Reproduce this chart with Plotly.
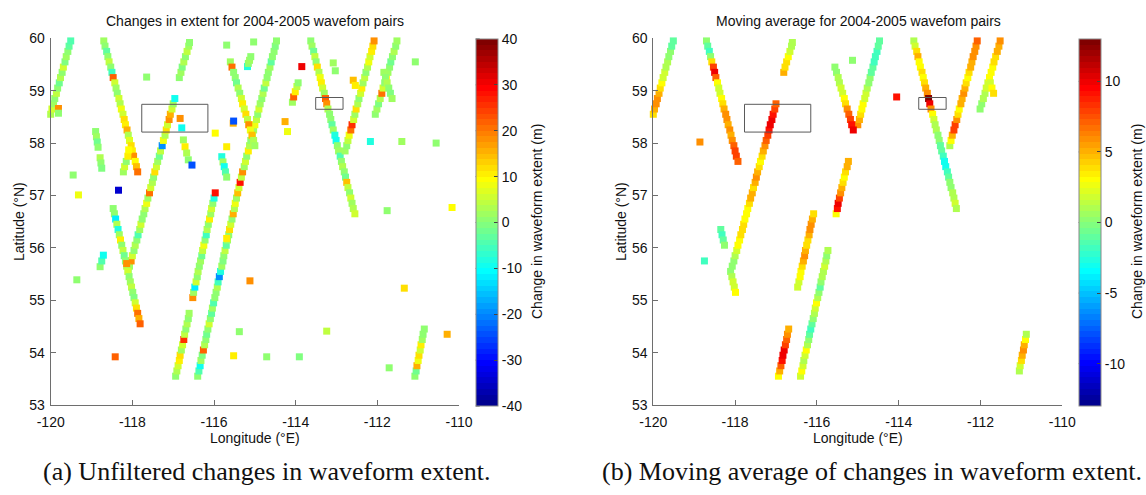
import numpy as np
import plotly.graph_objects as go

W, H = 1146, 495

# ---------------- along-track footprints (lon, lat) with changes in extent ----------------
# ext = unfiltered change (m), avg = moving average (m); None = no value in that product

a_lat = [58.55, 58.65, 58.75, 58.85, 58.95, 59.05, 59.15, 59.25, 59.35, 59.45, 59.55, 59.65, 59.75, 59.85, 59.95]
a_lon = [-120.00, -119.97, -119.93, -119.90, -119.86, -119.83, -119.79, -119.76, -119.72, -119.69, -119.65, -119.62, -119.58, -119.55, -119.51]
a_ext = [3, 6, 2, 0, 4, 1, -2, 3, 0, 5, -1, 2, 0, -3, -4]
a_avg = [4, 5, 6, 6, 5, 4, 3, 2, 2, 1, 1, 0, 0, -1, -1]

b_lat = [59.95, 59.85, 59.75, 59.65, 59.55, 59.45, 59.35, 59.25, 59.15, 59.05, 58.95, 58.85, 58.75,
         58.65, 58.55, 58.45, 58.35, 58.25, 58.15, 58.05, 57.95, 57.85, 57.75, 57.65, 57.55, 57.45]
b_lon = [-118.70, -118.67, -118.63, -118.60, -118.57, -118.53, -118.50, -118.47, -118.43, -118.40, -118.37, -118.33, -118.30,
         -118.27, -118.23, -118.20, -118.17, -118.13, -118.10, -118.07, -118.03, -118.00, -117.97, -117.93, -117.90, -117.87]
b_ext = [2, 0, -3, 1, 4, 0, -6, 22, 5, 2, 0, 6, 3, 8, 5, 12, 10, 15, 3, 7, 12, 10, 18, 9, 14, 20]
b_avg = [0, -1, -2, 0, 4, 8, 10, 7, 3, 2, 2, 3, 4, 5, 6, 6, 5, 6, 5, 6, 7, 8, 8, 7, None, None]

c_lat = [55.55, 55.65, 55.75, 55.85, 55.95, 56.05, 56.15, 56.25, 56.35, 56.45, 56.55, 56.65, 56.75, 56.85, 56.95, 57.05, 57.15,
         57.25, 57.35, 57.45, 57.55, 57.65, 57.75, 57.85, 57.95, 58.05, 58.15, 58.25, 58.35, 58.45, 58.55, 58.65, 58.75, 58.85]
c_lon = [-118.10, -118.07, -118.03, -118.00, -117.96, -117.93, -117.89, -117.86, -117.82, -117.79, -117.76, -117.72, -117.69,
         -117.65, -117.62, -117.58, -117.55, -117.51, -117.48, -117.45, -117.41, -117.38, -117.34, -117.31, -117.27, -117.24,
         -117.20, -117.17, -117.14, -117.10, -117.07, -117.03, -117.00, -116.96]
c_ext = [0, 2, 18, 5, 1, 3, 0, -4, 2, 6, 1, 0, 3, 8, 2, 20, 5, 3, 1, 12, 6, 2, -2, 4, -20, 8, 3, 12, 5, 18, 15, 6, 2, -10]
c_avg = [None, 0, 0, 1, 2, 3, 3, 4, 4, 4, 3, 3, 3, 4, 5, 5, 4, 5, 6, 5, 4, 3, 4, 5, 6, 7, 8, 9, 10, 10, 9, 8, 7, None]

ct_lat = [59.25, 59.35, 59.45, 59.55, 59.65, 59.75, 59.85, 59.92]
ct_lon = [-116.85, -116.81, -116.78, -116.74, -116.70, -116.66, -116.62, -116.60]
ct_ext = [0, 2, -1, 3, 1, 4, 2, 0]
ct_avg = [None, 5, 4, 4, 3, 2, 1, 1]

d_lat = [56.85, 56.75, 56.65, 56.55, 56.45, 56.35, 56.25, 56.15, 56.05, 55.95, 55.85, 55.75,
         55.65, 55.55, 55.45, 55.35, 55.25, 55.15, 55.05, 54.95, 54.85, 54.75, 54.65, 54.55]
d_lon = [-118.50, -118.47, -118.44, -118.41, -118.38, -118.35, -118.32, -118.29, -118.26, -118.23, -118.20, -118.17,
         -118.14, -118.11, -118.08, -118.05, -118.02, -117.99, -117.96, -117.93, -117.90, -117.87, -117.84, -117.81]
d_ext = [None, 0, 1, -12, 3, -8, 2, 10, 0, 4, -2, 1, 3, 5, 0, 2, 4, 1, -1, 6, 12, 20, 15, 22]
d_avg = [None, None, None, None, None, -1, -2, -1, 0, None, None, None,
         None, 0, 1, 2, 2, 3, None, None, None, None, None, None]

s1_lat = [58.22, 58.12, 58.02, 57.92, 57.72, 57.62, 57.52]
s1_lon = [-118.90, -118.88, -118.86, -118.84, -118.79, -118.77, -118.75]
s1_ext = [0, 2, -2, 1, 3, 0, -1]
s1_avg = [None, None, 6, None, None, None, None]

s2_lat = [57.45, 57.55, 57.65, 57.75, 57.87]
s2_lon = [-118.22, -118.19, -118.15, -118.11, -118.09]
s2_ext = [2, 5, 1, 10, 9]
s2_avg = [None, None, None, None, None]

s3_lat = [55.64, 55.75, 55.86]
s3_lon = [-118.79, -118.75, -118.71]
s3_ext = [0, -4, -10]
s3_avg = [None, -2, None]

e1a_lat = [53.55, 53.65, 53.75, 53.85, 53.95, 54.05, 54.15, 54.25, 54.35, 54.45, 54.55, 54.65, 54.75]
e1a_lon = [-116.94, -116.91, -116.88, -116.85, -116.83, -116.80, -116.77, -116.74, -116.72, -116.69, -116.66, -116.63, -116.61]
e1a_ext = [1, 3, 5, 10, 12, 2, 6, 25, 4, 1, 3, 0, 2]
e1a_avg = [3, 5, 7, 9, 10, 10, 8, 7, 6, 5, None, None, None]

e1b_lat = [55.05, 55.15, 55.25, 55.35, 55.45, 55.55, 55.65, 55.75, 55.85, 55.95, 56.05,
           56.15, 56.25, 56.35, 56.45, 56.55, 56.65, 56.75, 56.85, 56.95, 57.05]
e1b_lon = [-116.52, -116.50, -116.47, -116.44, -116.41, -116.39, -116.36, -116.33, -116.30, -116.28, -116.25,
           -116.22, -116.19, -116.17, -116.14, -116.11, -116.08, -116.06, -116.03, -116.00, -115.97]
e1b_ext = [18, 2, -12, 5, 1, 3, 0, 2, -2, 4, 8, 1, -6, 3, 0, 10, 2, 6, 1, -8, 28]
e1b_avg = [None, None, 2, 2, 3, 3, 4, 5, 6, 5, 4, 4, 5, 6, 6, 5, 4, None, None, None, None]

e1c_lat = [58.38, 58.42, 59.46, 59.52, 59.58, 59.65, 59.93]
e1c_lon = [-115.53, -115.52, -115.18, -115.16, -115.13, -115.10, -115.03]
e1c_ext = [16, -25, -8, 0, 2, 1, 0]
e1c_avg = [None, None, None, None, 0, None, None]

s4_lat = [57.93, 57.74, 57.64, 57.55, 57.45, 57.35]
s4_lon = [-115.69, -115.81, -115.78, -115.75, -115.72, -115.69]
s4_ext = [10, -8, 2, -10, -5, 0]
s4_avg = [None, None, None, None, None, None]

g_lat = [53.55, 53.65, 53.75, 53.85, 53.95, 54.05, 54.15, 54.25, 54.35, 54.45, 54.55, 54.65, 54.75,
         54.85, 54.95, 55.05, 55.15, 55.25, 55.35, 55.45, 55.55, 55.65, 55.75, 55.85, 55.95, 56.05,
         56.15, 56.25, 56.35, 56.45, 56.55, 56.65, 56.75, 56.85, 56.95, 57.05, 57.15, 57.25,
         57.35, 57.45, 57.55, 57.65, 57.75, 57.85, 57.95, 58.05, 58.15, 58.25, 58.35, 58.45, 58.55,
         58.65, 58.75, 58.85, 58.95, 59.05, 59.15, 59.25, 59.35, 59.45, 59.55, 59.65, 59.75, 59.85, 59.95]
g_lon = [-116.40, -116.37, -116.34, -116.32, -116.29, -116.26, -116.23, -116.20, -116.18, -116.15, -116.12, -116.09, -116.06,
         -116.04, -116.01, -115.98, -115.95, -115.92, -115.90, -115.87, -115.84, -115.81, -115.78, -115.76, -115.73, -115.70,
         -115.67, -115.64, -115.62, -115.59, -115.56, -115.53, -115.50, -115.48, -115.45, -115.42, -115.39, -115.36,
         -115.33, -115.30, -115.26, -115.23, -115.20, -115.16, -115.13, -115.10, -115.06, -115.03, -115.00, -114.96, -114.93,
         -114.90, -114.87, -114.83, -114.80, -114.77, -114.73, -114.70, -114.67, -114.63, -114.60, -114.57, -114.53, -114.50, -114.47]
g_ext = [0, -4, -10, 2, -1, 22, 3, 0, -2, 1, 5, 0, -3,
         2, -5, 0, 1, 3, -6, -20, -8, 2, -1, 0, 4, -3,
         2, 0, 12, 5, 1, 15, 3, 8, 2, 14, 6, 28,
         4, 18, 2, 6, 0, 10, 3, 1, 5, 2, 8, 4, 1,
         6, 2, 0, 3, -2, 4, 1, 0, 2, -3, 0, 1, -1, 0]
g_avg = [2, 3, 2, 1, 2, 3, 1, 0, -1, -2, -1, 0, 1,
         2, 3, 1, 0, -1, 0, 1, 1, 2, 1, 0, 1, None,
         None, None, None, None, None, 3, 9, 10, 8, 6, 5, 4,
         3, 4, 5, 5, None, None, None, None, None, None, 6, 5, 4,
         3, 3, 2, 2, 1, 0, 0, -1, -1, -2, -2, -2, -1, -1]

k_lat = [59.87, 59.55, 59.45, 59.35, 59.25, 59.15, 59.05, 58.95, 58.85, 58.75, 58.65, 58.55, 58.45, 58.35, 58.25, 58.15, 58.05, 57.95]
k_lon = [-115.69, -115.60, -115.56, -115.52, -115.48, -115.45, -115.41, -115.37, -115.33, -115.30, -115.26, -115.22,
         -115.18, -115.15, -115.11, -115.07, -115.03, -115.00]
k_ext = [0, 2, 20, 0, 1, -2, 3, 0, 5, 10, 6, 12, 4, 18, 8, 14, 3, 2]
k_avg = [None, None, 0, 0, 1, 1, 2, 2, 3, 4, 6, 7, 8, 9, 10, None, None, None]

h_lat = [59.95, 59.85, 59.75, 59.65, 59.55, 59.45, 59.35, 59.25, 59.15, 59.05, 58.95, 58.85, 58.75, 58.65, 58.55, 58.45, 58.35,
         58.25, 58.15, 58.05, 57.95, 57.85, 57.75, 57.65, 57.55, 57.45, 57.35, 57.25, 57.15, 57.05, 56.95, 56.85, 56.75, 56.65]
h_lon = [-113.63, -113.60, -113.56, -113.53, -113.50, -113.47, -113.43, -113.40, -113.37, -113.34, -113.30, -113.27, -113.24,
         -113.21, -113.17, -113.14, -113.11, -113.08, -113.04, -113.01, -112.98, -112.95, -112.91, -112.88, -112.85, -112.81,
         -112.78, -112.75, -112.72, -112.68, -112.65, -112.62, -112.59, -112.55]
h_ext = [0, 2, -2, 4, 1, 12, 3, 8, 10, 5, 2, 22, 18, 3, 0, 1, -3, 2, -8, -10, 0, 2, -5, 1, 3, 0, -2, 14, 4, 1, 6, 2, 3, 5]
h_avg = [1, 2, 4, 5, 3, 3, 4, 3, 4, 5, 6, 13, 10, 6, 3, 2, 1, 1, 0, 0, -1, -1, -2, -3, -3, -2, -1, 0, 0, 1, 1, 2, 1, None]

i_lat = [57.85, 57.95, 58.05, 58.15, 58.25, 58.35, 58.45, 58.55, 58.65, 58.75, 58.85,
         58.95, 59.05, 59.15, 59.25, 59.35, 59.45, 59.55, 59.65, 59.75, 59.85, 59.95]
i_lon = [-112.79, -112.75, -112.72, -112.69, -112.65, -112.62, -112.58, -112.55, -112.52, -112.48, -112.45,
         -112.41, -112.38, -112.35, -112.31, -112.28, -112.24, -112.21, -112.18, -112.14, -112.11, -112.08]
i_ext = [2, 0, 4, 8, 20, 26, 5, 2, 12, 3, 0, 6, 10, 2, 4, 1, 3, 8, 5, 10, 12, 18]
i_avg = [None, 1, 3, 5, 8, 8, 6, 4, 3, 5, 5, 6, 5, 4, 3, 4, 5, 5, 6, 6, 6, 7]

j_lat = [58.55, 58.65, 58.75, 58.85, 58.95, 59.05, 59.15, 59.25, 59.35, 59.45, 59.55, 59.65, 59.75, 59.85, 59.95]
j_lon = [-112.05, -112.01, -111.97, -111.93, -111.89, -111.86, -111.82, -111.78, -111.74, -111.70, -111.67, -111.63, -111.59, -111.55, -111.52]
j_ext = [0, 2, -1, 3, 20, 5, 1, 10, 2, 0, -2, 1, 3, 0, 2]
j_avg = [None, 0, 0, 1, 1, 2, 2, 3, 3, 3, 4, 4, 5, 5, 6]

jb_lat = [59.35, 59.25, 59.15, 59.05, 58.95, 58.85]
jb_lon = [-111.84, -111.80, -111.76, -111.72, -111.68, -111.64]
jb_ext = [2, 0, 3, 1, -1, 2]
jb_avg = [None, None, 2, 3, 4, None]

m_lat = [53.55, 53.65, 53.75, 53.85, 53.95, 54.05, 54.15, 54.25, 54.35, 54.45]
m_lon = [-111.08, -111.05, -111.03, -111.00, -110.98, -110.95, -110.93, -110.90, -110.88, -110.85]
m_ext = [0, -2, 15, 8, 12, 6, 10, 2, 0, 1]
m_avg = [None, 1, 2, 4, 5, 6, 5, 3, 1, None]

s5_lat = [58.47, 58.29, 58.06, 57.93, 57.81, 57.68, 57.58]
s5_lon = [-116.83, -116.79, -116.75, -116.71, -116.67, -116.63, -116.54]
s5_ext = [18, -10, 2, 10, 3, 0, -25]
s5_avg = [None, None, None, None, None, None, None]

s6_lat = [58.41, 58.22, 58.78, 58.88, 58.98, 59.08, 59.15]
s6_lon = [-114.26, -114.20, -114.08, -114.05, -114.01, -113.97, -113.94]
s6_ext = [15, 8, 2, 22, 10, 4, 1]
s6_avg = [None, None, None, 9, None, None, None]

# isolated footprints
pt_lat = [59.46, 59.53, 59.38, 59.20, 59.10, 59.55, 58.03, 58.03, 58.00, 56.71, 56.77, 55.39, 57.01, 57.39,
          57.10, 59.26, 58.66, 58.57, 55.70, 53.92, 55.37, 54.40, 53.94, 53.92, 53.92, 54.41, 55.23, 54.35,
          53.71, 56.18, 58.19]
pt_lon = [-113.85, -113.08, -113.03, -112.59, -112.54, -111.07, -112.17, -111.40, -110.56, -111.76, -110.17, -119.36, -119.32, -119.45,
          -118.34, -117.65, -119.81, -119.81, -118.14, -118.42, -115.12, -115.38, -115.52, -114.71, -113.91, -113.24, -111.34, -110.29,
          -111.71, -115.69, -115.97]
pt_ext = [30, 2, 0, 14, 10, 1, -8, 2, 1, 0, 9, 0, 8, 1,
          -35, 1, 18, 1, 18, 22, 18, 1, 10, 0, -1, 4, 12, 16,
          1, 10, 9]
pt_avg = [None] * len(pt_lat)

tracks = [
    (a_lon, a_lat, a_ext, a_avg), (b_lon, b_lat, b_ext, b_avg), (c_lon, c_lat, c_ext, c_avg),
    (ct_lon, ct_lat, ct_ext, ct_avg), (d_lon, d_lat, d_ext, d_avg), (s1_lon, s1_lat, s1_ext, s1_avg),
    (s2_lon, s2_lat, s2_ext, s2_avg), (s3_lon, s3_lat, s3_ext, s3_avg), (e1a_lon, e1a_lat, e1a_ext, e1a_avg),
    (e1b_lon, e1b_lat, e1b_ext, e1b_avg), (e1c_lon, e1c_lat, e1c_ext, e1c_avg), (s4_lon, s4_lat, s4_ext, s4_avg),
    (g_lon, g_lat, g_ext, g_avg), (k_lon, k_lat, k_ext, k_avg), (h_lon, h_lat, h_ext, h_avg),
    (i_lon, i_lat, i_ext, i_avg), (j_lon, j_lat, j_ext, j_avg), (jb_lon, jb_lat, jb_ext, jb_avg),
    (m_lon, m_lat, m_ext, m_avg), (s5_lon, s5_lat, s5_ext, s5_avg), (s6_lon, s6_lat, s6_ext, s6_avg),
    (pt_lon, pt_lat, pt_ext, pt_avg),
]

# study boxes (lon0, lon1, lat0, lat1)
boxes = [(-117.77, -116.15, 58.21, 58.74), (-113.51, -112.84, 58.645, 58.87)]

x_ticks = [-120, -118, -116, -114, -112, -110]
y_ticks = [53, 54, 55, 56, 57, 58, 59, 60]
cb1_ticks = [-40, -30, -20, -10, 0, 10, 20, 30, 40]
cb2_ticks = [-10, -5, 0, 5, 10]


def jet(m=64):
    n = int(np.ceil(m / 4))
    u = np.concatenate([np.arange(1, n + 1) / n, np.ones(n - 1), np.arange(n, 0, -1) / n])
    g = int(np.ceil(n / 2)) - (1 if m % 4 == 1 else 0) + np.arange(1, len(u) + 1)
    r, b = g + n, g - n
    cmap = np.zeros((m, 3))
    for idx, ch in ((r, 0), (g, 1), (b, 2)):
        ok = (idx >= 1) & (idx <= m)
        cmap[idx[ok] - 1, ch] = u[ok]
    return cmap


JET = jet(64)
jet_scale = []
for k, (r, g, b) in enumerate(JET):
    col = f"rgb({int(round(r * 255))},{int(round(g * 255))},{int(round(b * 255))})"
    jet_scale.append([k / 64, col])
    jet_scale.append([(k + 1) / 64, col])


def gather(which):
    xs, ys, vs = [], [], []
    for tr in tracks:
        lon, lat, vals = tr[0], tr[1], tr[which]
        for x, y, v in zip(lon, lat, vals):
            if v is not None:
                xs.append(x)
                ys.append(y)
                vs.append(v)
    return xs, ys, vs


def px(x):
    return x / W


def py(y):
    return 1 - y / H


FONT = "Liberation Sans, Arial, sans-serif"
AX = "#6e6e6e"
CB_TOP, CB_BOT, CB_W = 39.0, 406.0, 21.5

fig = go.Figure()

panels = [
    dict(which=2, xa="x", ya="y", cmin=-40, cmax=40, ticks=cb1_ticks, cbx=475.7),
    dict(which=3, xa="x2", ya="y2", cmin=-13, cmax=13, ticks=cb2_ticks, cbx=1078.7),
]
shapes = []
for p in panels:
    xs, ys, vs = gather(p["which"])
    fig.add_trace(go.Scatter(
        x=xs, y=ys, mode="markers", xaxis=p["xa"], yaxis=p["ya"], cliponaxis=False,
        hoverinfo="skip", showlegend=False,
        marker=dict(
            symbol="square", size=7, line=dict(width=0), color=vs,
            colorscale=jet_scale, cmin=p["cmin"], cmax=p["cmax"],
            colorbar=dict(
                x=px(p["cbx"]), xanchor="left", xpad=0, ypad=0,
                y=py((CB_TOP + CB_BOT) / 2), yanchor="middle", len=(CB_BOT - CB_TOP) / H, lenmode="fraction",
                thickness=CB_W, thicknessmode="pixels",
                outlinecolor="#8a8a8a", outlinewidth=1,
                tickvals=p["ticks"], ticktext=[str(t) for t in p["ticks"]],
                ticks="inside", ticklen=4, tickcolor="#444444",
                tickfont=dict(family=FONT, size=14, color="#111111"),
            ),
        ),
    ))
    # tick marks on the left edge of the colour bar as well
    for t in p["ticks"]:
        yy = CB_TOP + (p["cmax"] - t) / (p["cmax"] - p["cmin"]) * (CB_BOT - CB_TOP)
        shapes.append(dict(type="line", xref="paper", yref="paper",
                           x0=px(p["cbx"]), x1=px(p["cbx"] + 4), y0=py(yy), y1=py(yy),
                           line=dict(color="#444444", width=1)))

axis_common = dict(
    showgrid=False, zeroline=False, showline=True, linecolor=AX, linewidth=1,
    ticks="inside", ticklen=5, tickcolor=AX, mirror=False, automargin=False,
    tickfont=dict(family=FONT, size=14, color="#111111"),
)
xdom1 = [px(50.7), px(459.0)]
xdom2 = [px(653.3), px(1062.3)]
ydom = [py(405.0), py(38.3)]
fig.update_layout(
    width=W, height=H, margin=dict(l=0, r=0, t=0, b=0, pad=0, autoexpand=False),
    paper_bgcolor="white", plot_bgcolor="white",
    xaxis=dict(domain=xdom1, range=[-120, -110], tickvals=x_ticks, ticktext=[str(t) for t in x_ticks],
               anchor="y", ticklabelstandoff=4, **axis_common),
    yaxis=dict(domain=ydom, range=[53, 60], tickvals=y_ticks, ticktext=[str(t) for t in y_ticks],
               anchor="x", ticklabelstandoff=2, **axis_common),
    xaxis2=dict(domain=xdom2, range=[-120, -110], tickvals=x_ticks, ticktext=[str(t) for t in x_ticks],
                anchor="y2", ticklabelstandoff=4, **axis_common),
    yaxis2=dict(domain=ydom, range=[53, 60], tickvals=y_ticks, ticktext=[str(t) for t in y_ticks],
                anchor="x2", ticklabelstandoff=2, **axis_common),
)

for xr, yr in (("x", "y"), ("x2", "y2")):
    for x0, x1, y0, y1 in boxes:
        shapes.append(dict(type="rect", xref=xr, yref=yr, x0=x0, x1=x1, y0=y0, y1=y1,
                           line=dict(color="#5a5a5a", width=1), fillcolor="rgba(0,0,0,0)"))
fig.update_layout(shapes=shapes)

ann = []


def text(x, y, s, size=14, angle=0, family=FONT, color="#111111"):
    ann.append(dict(x=px(x), y=py(y), xref="paper", yref="paper", text=s, showarrow=False,
                    textangle=angle, xanchor="center", yanchor="middle",
                    font=dict(family=family, size=size, color=color)))


text(255, 21, "Changes in extent for 2004-2005 wavefom pairs", 14)
text(858, 21, "Moving average for 2004-2005 wavefom pairs", 14)
text(255, 438, "Longitude (°E)", 14)
text(858, 438, "Longitude (°E)", 14)
text(19, 222, "Latitude (°N)", 14, angle=-90)
text(621, 222, "Latitude (°N)", 14, angle=-90)
text(537, 222, "Change in waveform extent (m)", 14, angle=-90)
text(1137, 222, "Change in waveform extent (m)", 14, angle=-90)
text(267, 471, "(a) Unfiltered changes in waveform extent.", 26, family="Liberation Serif, Times New Roman, serif")
text(872, 471, "(b) Moving average of changes in waveform extent.", 26, family="Liberation Serif, Times New Roman, serif")
fig.update_layout(annotations=ann)

fig.write_html("out.html")
